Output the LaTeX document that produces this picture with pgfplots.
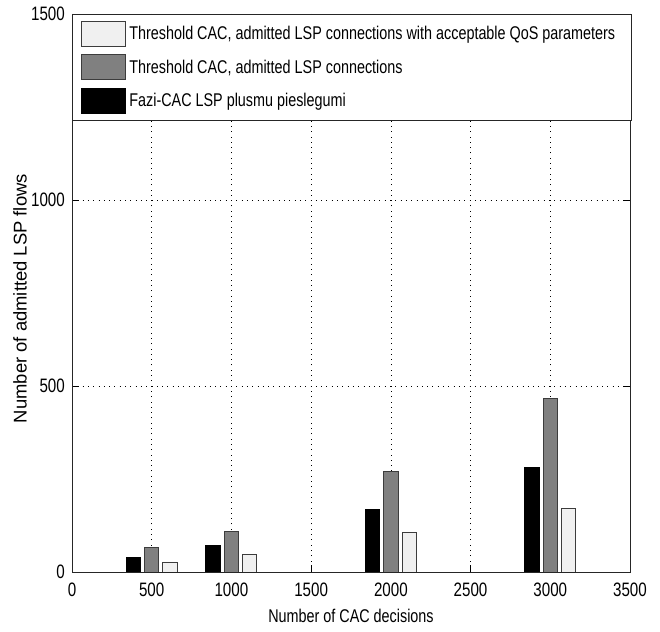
\documentclass[border=0pt]{standalone}
\usepackage{fontspec}
\setmainfont{Liberation Sans}[FakeStretch=0.78]
\newfontfamily\ylfont{Liberation Sans}
\usepackage{pgfplots}
\pgfplotsset{compat=1.18}
\definecolor{edgec}{RGB}{60,60,60}
\definecolor{midgray}{RGB}{128,128,128}
\definecolor{lightbar}{RGB}{240,240,240}
\begin{document}
\begin{tikzpicture}
\begin{axis}[
  name=ax,
  scale only axis,
  width=558bp, height=558bp,
  xmin=0, xmax=3500, ymin=0, ymax=1500,
  xtick={0,500,1000,1500,2000,2500,3000,3500},
  ytick={0,500,1000,1500},
  /pgf/number format/1000 sep={},
  /pgf/number format/assume math mode=true,
  tick label style={font=\fontsize{19.5}{19.5}\selectfont},
  xticklabel style={inner sep=0pt, yshift=-11bp},
  yticklabel style={inner sep=0pt, xshift=-7bp},
  tick align=inside, tick pos=both,
  major tick length=7bp,
  tick style={black, line width=0.8bp},
  axis line style={black!85, line width=0.9bp},
  grid=major,
  major grid style={black, line width=0.7bp, dash pattern=on 0.8bp off 4.5bp},
  xlabel={Number of CAC decisions},
  xlabel style={font=\fontsize{18.5}{18.5}\selectfont, at={(axis description cs:0.5,0)}, anchor=base, yshift=-50bp},
  ylabel={\ylfont Number of admitted LSP flows},
  ylabel style={font=\fontsize{18.5}{18.5}\selectfont, at={(axis description cs:-0.0932,0.49)}, anchor=center},
  legend style={at={(0,1)}, anchor=north west, draw=black!85, line width=0.9bp, fill=white,
    inner xsep=9bp, inner ysep=6.5bp, row sep=7.5bp, column sep=3bp,
    nodes={inner sep=0pt}, font=\fontsize{18.5}{18.5}\selectfont},
  legend cell align=left,
  reverse legend,
  legend image code/.code={\draw[#1, line width=0.9bp] (0bp,-12.5bp) rectangle (44bp,12.5bp);},
]
\addplot[ybar, bar width=90, bar shift=-115, fill=black, draw=black, line width=0.9bp]
  coordinates {(500,40) (1000,72) (2000,169) (3000,281)};
\addlegendentry{\makebox[493bp][l]{Fazi-CAC LSP plusmu pieslegumi}}
\addplot[ybar, bar width=90, bar shift=0, fill=midgray, draw=edgec, line width=0.9bp]
  coordinates {(500,67) (1000,110) (2000,271) (3000,466)};
\addlegendentry{\makebox[493bp][l]{Threshold CAC, admitted LSP connections}}
\addplot[ybar, bar width=90, bar shift=115, fill=lightbar, draw=edgec, line width=0.9bp]
  coordinates {(500,27) (1000,46) (2000,107) (3000,172)};
\addlegendentry{\makebox[493bp][l]{Threshold CAC, admitted LSP connections with acceptable QoS parameters}}
\end{axis}
\path (ax.south west) ++(-72bp,-60bp);
\path (ax.north east) ++(30bp,14bp);
\end{tikzpicture}
\end{document}
